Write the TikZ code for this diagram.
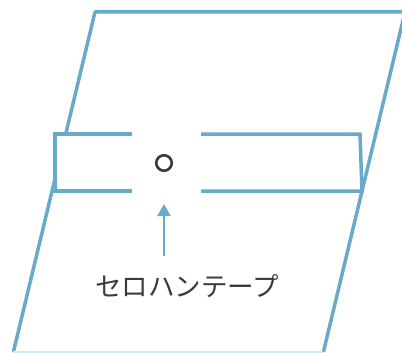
\documentclass[tikz,border=0pt]{standalone}
\usepackage{fontspec}
\newfontfamily\cjkfont{Noto Sans CJK JP}
\usetikzlibrary{arrows.meta}
\definecolor{lineblue}{RGB}{104,170,202}
\definecolor{palecyan}{RGB}{200,236,247}
\definecolor{inkgray}{RGB}{58,58,58}
\tikzset{
  edge/.style={draw=lineblue, line width=3.5pt, line join=round},
  tapeedge/.style={draw=lineblue, line width=3.5pt, line join=miter},
  pointer/.style={draw=lineblue, line width=1.8pt, -{Triangle[width=13pt,length=12pt]}},
  hole/.style={draw=inkgray, line width=2.6pt},
  caption/.style={font=\cjkfont\fontsize{26.5}{26.5}\selectfont, text=inkgray, inner sep=0pt}
}
\begin{document}
\begin{tikzpicture}[x=1pt, y=-1pt]
\useasboundingbox (0,0) rectangle (402,353);
\clip (0,0) rectangle (402,353);
% sheet (parallelogram)
\coordinate (tl) at (95,12);
\coordinate (tr) at (405,12);
\coordinate (br) at (323.4,352);
\coordinate (bl) at (13.4,352);
\draw[edge] (bl) -- (tl) -- (tr) -- (br);
\draw[draw=palecyan, line width=1.5pt] (bl) -- (br);
% tape
\fill[white] (55,134) rectangle (361,191);
\draw[tapeedge] (132,134) -- (55,134) -- (55,191) -- (132,191);
\draw[tapeedge] (201,134) -- (360,134) -- (362,191) -- (201,191);
% hole
\node[circle, hole, minimum size=15.5pt, inner sep=0pt] (hole) at (164,163) {};
% label and arrow
\node[caption] (label) at (187,286) {セロハンテープ};
\coordinate (abase) at (164,256);
\coordinate (tip) at (164,204);
\draw[pointer] (abase) -- (tip);
\end{tikzpicture}
\end{document}
